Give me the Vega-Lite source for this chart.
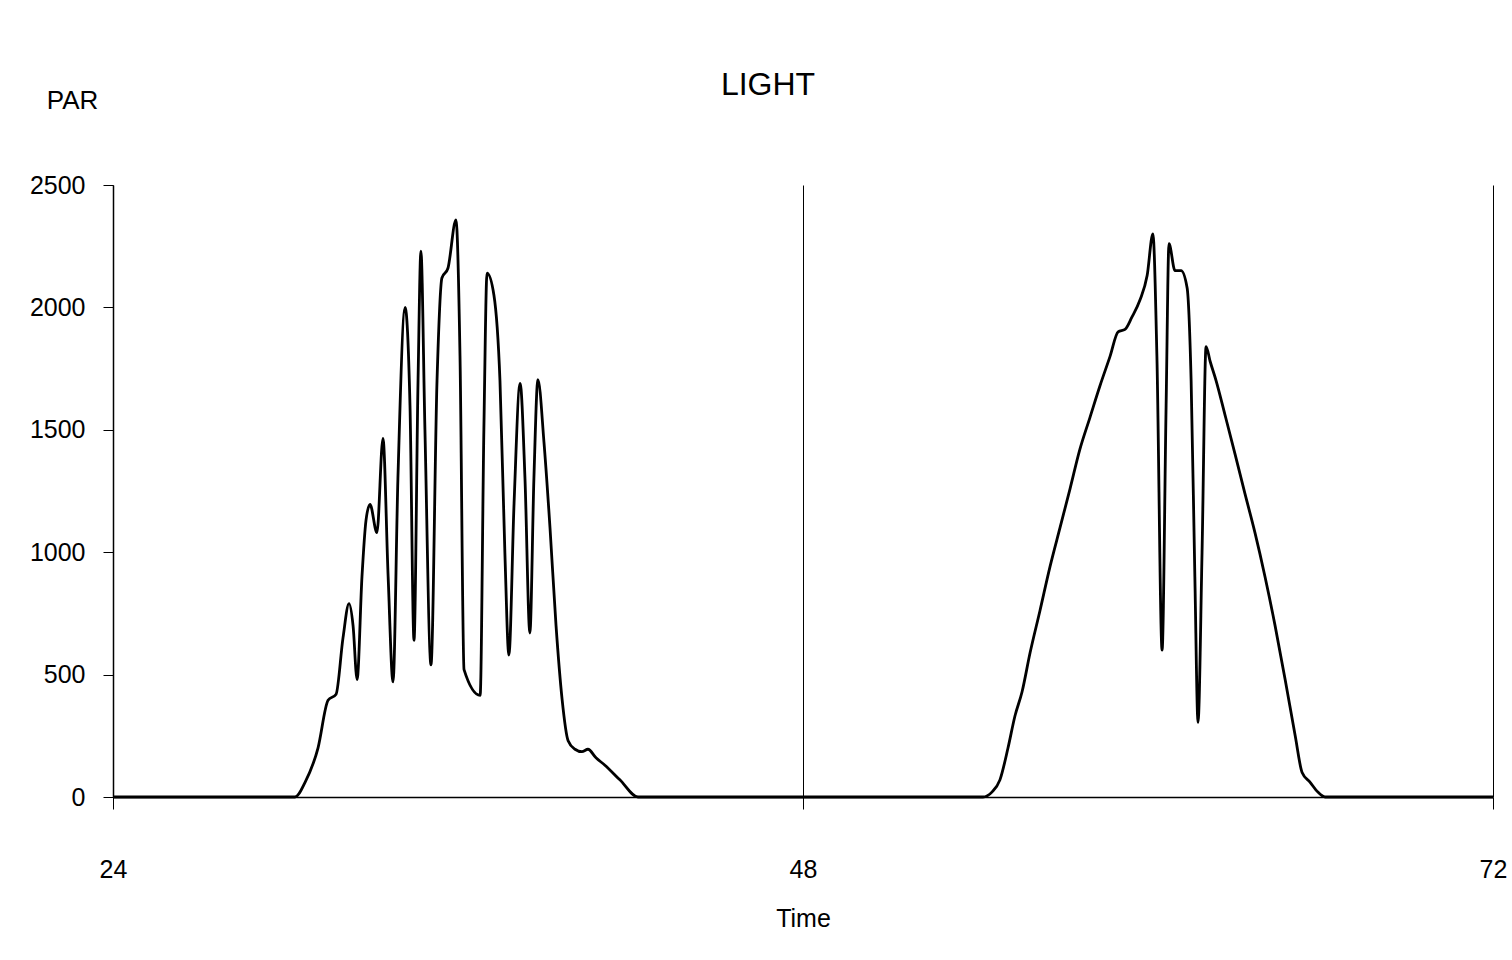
{
  "$schema": "https://vega.github.io/schema/vega-lite/v6.json",
  "width": 1380,
  "height": 612,
  "autosize": {"type": "none"},
  "padding": {"left": 113, "top": 185, "right": 19, "bottom": 163},
  "background": "white",
  "config": {
    "view": {"stroke": null},
    "font": "Liberation Sans"
  },
  "title": {
    "text": "LIGHT",
    "font": "Liberation Sans",
    "fontSize": 32,
    "fontWeight": "normal",
    "color": "black",
    "anchor": "middle",
    "frame": "group",
    "dx": -35,
    "dy": 42,
    "offset": 2,
    "baseline": "alphabetic"
  },
  "data": {
    "values": [
      {"t": 24, "par": 0},
      {"t": 30.33, "par": 0},
      {"t": 30.68, "par": 60},
      {"t": 31.13, "par": 200},
      {"t": 31.48, "par": 395},
      {"t": 31.76, "par": 420},
      {"t": 32.0, "par": 650},
      {"t": 32.21, "par": 790},
      {"t": 32.35, "par": 700},
      {"t": 32.49, "par": 480},
      {"t": 32.66, "par": 900},
      {"t": 32.8, "par": 1130},
      {"t": 32.94, "par": 1195},
      {"t": 33.18, "par": 1080},
      {"t": 33.39, "par": 1465},
      {"t": 33.57, "par": 900},
      {"t": 33.74, "par": 470},
      {"t": 33.91, "par": 1300},
      {"t": 34.16, "par": 2000},
      {"t": 34.33, "par": 1600},
      {"t": 34.47, "par": 640},
      {"t": 34.61, "par": 1700},
      {"t": 34.71, "par": 2230},
      {"t": 34.85, "par": 1500},
      {"t": 35.06, "par": 540},
      {"t": 35.27, "par": 1700},
      {"t": 35.44, "par": 2120},
      {"t": 35.65, "par": 2160},
      {"t": 35.93, "par": 2357},
      {"t": 36.07, "par": 1800},
      {"t": 36.21, "par": 520},
      {"t": 36.77, "par": 415},
      {"t": 36.9, "par": 1500},
      {"t": 37.01, "par": 2140},
      {"t": 37.25, "par": 2050},
      {"t": 37.46, "par": 1700},
      {"t": 37.63, "par": 1000},
      {"t": 37.77, "par": 580},
      {"t": 37.95, "par": 1200},
      {"t": 38.16, "par": 1690},
      {"t": 38.33, "par": 1300},
      {"t": 38.5, "par": 670},
      {"t": 38.64, "par": 1300},
      {"t": 38.78, "par": 1705},
      {"t": 38.99, "par": 1450},
      {"t": 39.2, "par": 1100},
      {"t": 39.41, "par": 700},
      {"t": 39.62, "par": 400},
      {"t": 39.83, "par": 230},
      {"t": 40.07, "par": 195},
      {"t": 40.31, "par": 185},
      {"t": 40.52, "par": 195},
      {"t": 40.8, "par": 160},
      {"t": 41.11, "par": 130},
      {"t": 41.63, "par": 70},
      {"t": 42.26, "par": 0},
      {"t": 54.26, "par": 0},
      {"t": 54.57, "par": 20},
      {"t": 54.85, "par": 70},
      {"t": 55.13, "par": 200},
      {"t": 55.37, "par": 330},
      {"t": 55.62, "par": 430},
      {"t": 55.9, "par": 590},
      {"t": 56.24, "par": 760},
      {"t": 56.59, "par": 940},
      {"t": 56.94, "par": 1100},
      {"t": 57.29, "par": 1260},
      {"t": 57.63, "par": 1420},
      {"t": 57.98, "par": 1550},
      {"t": 58.33, "par": 1680},
      {"t": 58.68, "par": 1800},
      {"t": 58.96, "par": 1900},
      {"t": 59.2, "par": 1910},
      {"t": 59.44, "par": 1960},
      {"t": 59.72, "par": 2030},
      {"t": 59.97, "par": 2130},
      {"t": 60.17, "par": 2300},
      {"t": 60.31, "par": 1800},
      {"t": 60.49, "par": 600},
      {"t": 60.63, "par": 1600},
      {"t": 60.73, "par": 2260},
      {"t": 60.94, "par": 2150},
      {"t": 61.15, "par": 2150},
      {"t": 61.36, "par": 2080},
      {"t": 61.5, "par": 1700},
      {"t": 61.63, "par": 900},
      {"t": 61.74, "par": 305},
      {"t": 61.88, "par": 1000},
      {"t": 62.02, "par": 1840},
      {"t": 62.16, "par": 1780},
      {"t": 62.37, "par": 1700},
      {"t": 62.68, "par": 1560},
      {"t": 63.03, "par": 1400},
      {"t": 63.37, "par": 1240},
      {"t": 63.72, "par": 1080},
      {"t": 64.07, "par": 900},
      {"t": 64.42, "par": 700},
      {"t": 64.77, "par": 480},
      {"t": 65.12, "par": 250},
      {"t": 65.36, "par": 100},
      {"t": 65.64, "par": 60},
      {"t": 65.91, "par": 20},
      {"t": 66.16, "par": 0},
      {"t": 72, "par": 0}
    ]
  },
  "mark": {"type": "line", "color": "black", "strokeWidth": 2.8, "interpolate": "monotone"},
  "encoding": {
    "x": {
      "field": "t",
      "type": "quantitative",
      "scale": {"domain": [24, 72], "nice": false, "zero": false},
      "axis": {
        "values": [24, 48, 72],
        "format": "d",
        "title": "Time",
        "titleFont": "Liberation Sans",
        "titleFontSize": 25,
        "titleFontWeight": "normal",
        "titleColor": "black",
        "titleBaseline": "middle",
        "titleY": 121,
        "labelFont": "Liberation Sans",
        "labelFontSize": 25,
        "labelColor": "black",
        "labelPadding": 48,
        "labelBaseline": "top",
        "labelFlush": false,
        "tickSize": 12,
        "tickColor": "black",
        "tickWidth": 1,
        "domainColor": "black",
        "domainWidth": 1.5,
        "grid": true,
        "gridColor": "black",
        "gridWidth": 1,
        "gridOpacity": 1
      }
    },
    "y": {
      "field": "par",
      "type": "quantitative",
      "scale": {"domain": [0, 2500], "nice": false},
      "axis": {
        "values": [0, 500, 1000, 1500, 2000, 2500],
        "format": "d",
        "title": "PAR",
        "titleFont": "Liberation Sans",
        "titleFontSize": 26,
        "titleFontWeight": "normal",
        "titleColor": "black",
        "titleAngle": 0,
        "titleAlign": "center",
        "titleBaseline": "middle",
        "titleX": -41,
        "titleY": -85,
        "labelFont": "Liberation Sans",
        "labelFontSize": 25,
        "labelColor": "black",
        "labelPadding": 18,
        "tickSize": 10,
        "tickColor": "black",
        "tickWidth": 1,
        "domainColor": "black",
        "domainWidth": 1.5,
        "grid": false
      }
    }
  }
}
